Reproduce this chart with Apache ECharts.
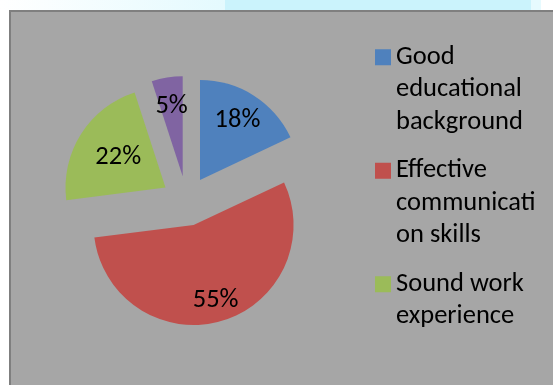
<!DOCTYPE html>
<html>
<head>
<meta charset="utf-8">
<script src="https://cdn.jsdelivr.net/npm/echarts@6/dist/echarts.min.js"></script>
<style>
  html, body { margin: 0; padding: 0; background: #ffffff; overflow: hidden; }
  #chart { width: 553px; height: 385px; }
</style>
</head>
<body>
<div id="chart"></div>
<script>
// Categories and their shares (percent)
const categories = [
  'Good educational background',
  'Effective communication skills',
  'Sound work experience',
  'Other'
];
const shares = [18, 55, 22, 5];
const colors = ['#4F81BD', '#C0504D', '#9BBB59', '#8064A2'];

// Legend entries as they wrap in the narrow legend column
const legendLines = [
  ['Good', 'educational', 'background'],
  ['Effective', 'communicati', 'on skills'],
  ['Sound work', 'experience', ' ']
];

// How far out (fraction of radius) each percentage label sits in its slice
const labelRadius = [0.67, 0.76, 0.53, 0.68];

const R = 100;
const FONT = 'Carlito, Lato, sans-serif';
const FONT_SIZE = 26.5;

const total = shares.reduce((a, b) => a + b, 0);
const midAngles = [];
let acc = 0;
shares.forEach(v => {
  midAngles.push((acc + v / 2) / total * 2 * Math.PI);
  acc += v;
});

const chart = echarts.init(document.getElementById('chart'), null, { renderer: 'canvas' });

chart.setOption({
  animation: false,
  backgroundColor: '#A6A6A6',
  graphic: [
    // strip above the plot panel
    {
      type: 'rect', silent: true, z: -10,
      shape: { x: 0, y: 0, width: 225, height: 10 },
      style: {
        fill: new echarts.graphic.LinearGradient(0, 0, 1, 0, [
          { offset: 0, color: '#ffffff' },
          { offset: 1, color: '#E4FAFE' }
        ])
      }
    },
    {
      type: 'rect', silent: true, z: -10,
      shape: { x: 225, y: 0, width: 306, height: 10 },
      style: { fill: '#CBF3FC' }
    },
    {
      type: 'rect', silent: true, z: -10,
      shape: { x: 531, y: 0, width: 10, height: 10 },
      style: { fill: '#E6FAFE' }
    },
    {
      type: 'rect', silent: true, z: -10,
      shape: { x: 541, y: 0, width: 12, height: 10 },
      style: { fill: '#ffffff' }
    },
    // white margin left of the plot panel
    {
      type: 'rect', silent: true, z: -10,
      shape: { x: 0, y: 10, width: 9, height: 375 },
      style: { fill: '#ffffff' }
    },
    // top edge of the plot panel
    {
      type: 'line', silent: true, z: -4,
      shape: { x1: 9, y1: 11, x2: 553, y2: 11 },
      style: { stroke: '#7F7F7F', lineWidth: 2 }
    },
    // left edge of the plot panel
    {
      type: 'line', silent: true, z: -4,
      shape: { x1: 10, y1: 10, x2: 10, y2: 385 },
      style: { stroke: '#7F7F7F', lineWidth: 2 }
    }
  ],
  legend: {
    orient: 'vertical',
    left: 375,
    top: 41,
    padding: 0,
    itemGap: 16,
    itemWidth: 16,
    itemHeight: 97,
    icon: 'path://M0,8H16V24H0Z M0,0L0.01,0 M0,97L0.01,97',
    data: categories.slice(0, 3),
    formatter: name => legendLines[categories.indexOf(name)].join('\n'),
    textStyle: {
      fontFamily: FONT,
      fontSize: FONT_SIZE,
      lineHeight: 32.5,
      color: '#000000'
    },
    selectedMode: false
  },
  series: [{
    type: 'pie',
    center: [186.6, 201],
    radius: [0, R],
    startAngle: 90,
    clockwise: true,
    selectedMode: 'multiple',
    selectedOffset: 25,
    avoidLabelOverlap: false,
    itemStyle: { borderWidth: 0 },
    select: { itemStyle: { borderWidth: 0 } },
    emphasis: { disabled: true },
    label: {
      show: true,
      position: 'inside',
      formatter: '{c}%',
      fontFamily: FONT,
      fontSize: FONT_SIZE,
      color: '#000000'
    },
    labelLine: { show: false },
    labelLayout: function (p) {
      const i = p.dataIndex;
      const extra = (labelRadius[i] - 0.5) * R;
      return {
        dx: extra * Math.sin(midAngles[i]),
        dy: -extra * Math.cos(midAngles[i])
      };
    },
    data: categories.map((name, i) => ({
      name: name,
      value: shares[i],
      selected: true,
      itemStyle: { color: colors[i] }
    }))
  }]
});
</script>
</body>
</html>
